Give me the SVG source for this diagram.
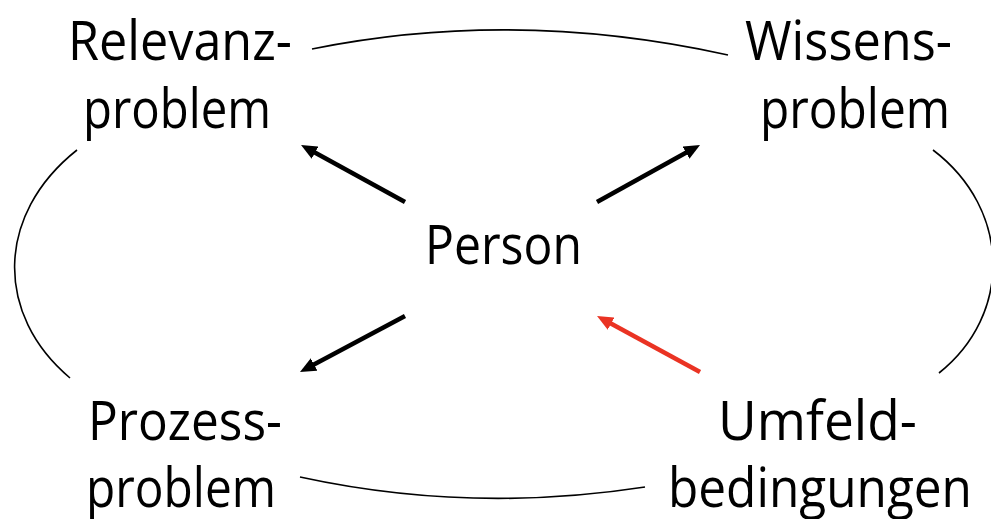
<svg xmlns="http://www.w3.org/2000/svg" width="991" height="519" viewBox="0 0 991 519">
  <style>
    .lbl { font-family: "Open Sans", "Liberation Sans", sans-serif; font-size: 54px; fill: #000; }
    .arc { fill: none; stroke: #000; stroke-width: 1.6; }
    .arr { fill: none; stroke: #000; stroke-width: 4.5; }
    .arr-red { fill: none; stroke: #ea3323; stroke-width: 4.5; }
  </style>
  <defs>
    <marker id="headK" markerUnits="userSpaceOnUse" viewBox="0 0 16 14" markerWidth="16" markerHeight="14" refX="6" refY="7" orient="auto">
      <path d="M0,0 L16,7 L0,14 z" fill="#000"/>
    </marker>
    <marker id="headR" markerUnits="userSpaceOnUse" viewBox="0 0 16 14" markerWidth="16" markerHeight="14" refX="6" refY="7" orient="auto">
      <path d="M0,0 L16,7 L0,14 z" fill="#ea3323"/>
    </marker>
  </defs>

  <g id="connectors">
    <path class="arc" d="M312,49 Q515,8 728,55"/>
    <path class="arc" d="M300,477 Q470,514 645,487"/>
    <path class="arc" d="M77,150 C-5,215 -5,315 70,378"/>
    <path class="arc" d="M933,150 C1012,210 1012,315 939,373"/>
    <line class="arr" x1="405" y1="202" x2="309.8" y2="149.8" marker-end="url(#headK)"/>
    <line class="arr" x1="597" y1="202" x2="691.3" y2="149.8" marker-end="url(#headK)"/>
    <line class="arr" x1="405" y1="316" x2="308.8" y2="367.3" marker-end="url(#headK)"/>
    <line class="arr-red" x1="700" y1="372" x2="605.8" y2="320.8" marker-end="url(#headR)"/>
  </g>

  <g id="node-relevanz">
    <text class="lbl" x="68" y="60" textLength="224" lengthAdjust="spacingAndGlyphs">Relevanz-</text>
    <text class="lbl" x="83" y="128" textLength="188" lengthAdjust="spacingAndGlyphs">problem</text>
  </g>
  <g id="node-wissens">
    <text class="lbl" x="745" y="60" textLength="207" lengthAdjust="spacingAndGlyphs">Wissens-</text>
    <text class="lbl" x="760" y="128" textLength="190" lengthAdjust="spacingAndGlyphs">problem</text>
  </g>
  <g id="node-person">
    <text class="lbl" x="425" y="264" textLength="157" lengthAdjust="spacingAndGlyphs">Person</text>
  </g>
  <g id="node-prozess">
    <text class="lbl" x="88" y="440" textLength="194" lengthAdjust="spacingAndGlyphs">Prozess-</text>
    <text class="lbl" x="86" y="507" textLength="190" lengthAdjust="spacingAndGlyphs">problem</text>
  </g>
  <g id="node-umfeld">
    <text class="lbl" x="718" y="440" textLength="199" lengthAdjust="spacingAndGlyphs">Umfeld-</text>
    <text class="lbl" x="668" y="507" textLength="304" lengthAdjust="spacingAndGlyphs">bedingungen</text>
  </g>
</svg>
